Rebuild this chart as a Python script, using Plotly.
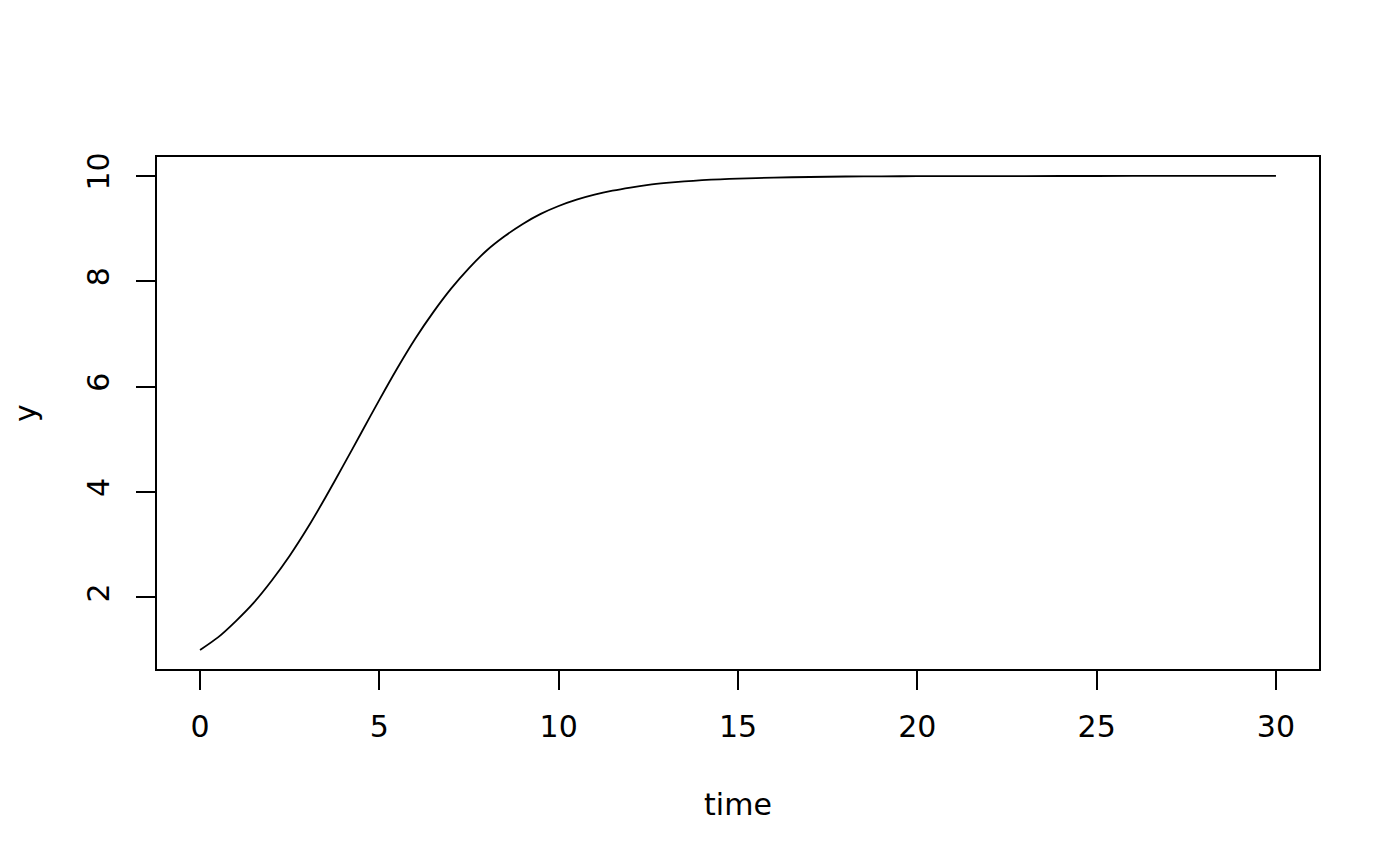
import plotly.graph_objects as go

# logistic growth
time = [0, 0.5, 1, 1.5, 2, 2.5, 3, 3.5, 4, 4.5, 5, 5.5, 6, 6.5, 7, 7.5, 8, 8.5, 9, 9.5,
        10, 10.5, 11, 11.5, 12, 12.5, 13, 13.5, 14, 14.5, 15, 16, 17, 18, 19, 20, 22, 24, 26, 28, 30]
y = [1.00, 1.24, 1.55, 1.90, 2.32, 2.79, 3.32, 3.90, 4.51, 5.13, 5.75, 6.35, 6.91, 7.41, 7.86, 8.25,
     8.59, 8.86, 9.09, 9.28, 9.43, 9.55, 9.645, 9.72, 9.78, 9.83, 9.867, 9.896, 9.92, 9.937, 9.95,
     9.97, 9.98, 9.99, 9.993, 9.996, 9.998, 9.999, 10.0, 10.0, 10.0]

x_ticks = [0, 5, 10, 15, 20, 25, 30]
y_ticks = [2, 4, 6, 8, 10]

font = dict(family="DejaVu Sans", size=30, color="black")

fig = go.Figure()
fig.add_trace(go.Scatter(x=time, y=y, mode="lines",
                         line=dict(color="black", width=1.8, shape="spline", smoothing=0.6),
                         showlegend=False))

axis_common = dict(showline=True, linecolor="black", linewidth=1.6, mirror=True,
                   ticks="outside", ticklen=19, tickwidth=1.6, tickcolor="black",
                   showgrid=False, zeroline=False, tickfont=font)

fig.update_xaxes(range=[-1.2, 31.2], tickvals=x_ticks, ticklabelstandoff=11,
                 title=dict(text="time", font=font, standoff=51), **axis_common)
fig.update_yaxes(range=[0.64, 10.36], tickvals=y_ticks, tickangle=-90, ticklabelstandoff=15,
                 title=dict(text="y", font=font, standoff=36), **axis_common)

# page body adds an 8px offset, so margins are shifted to compensate
fig.update_layout(width=1400, height=866, plot_bgcolor="white", paper_bgcolor="white",
                  margin=dict(l=149, r=89, t=149, b=205, autoexpand=False), font=font)

fig.write_html("out.html")
